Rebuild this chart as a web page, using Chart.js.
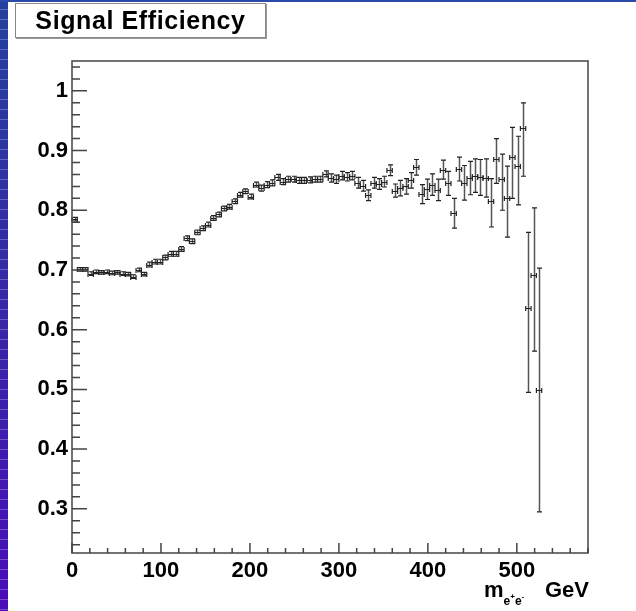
<!DOCTYPE html>
<html>
<head>
<meta charset="utf-8">
<title>Signal Efficiency</title>
<script src="https://cdn.jsdelivr.net/npm/chart.js@4.4.1/dist/chart.umd.min.js"></script>
<style>
  html, body { margin: 0; padding: 0; background: #fff; }
  #wrap { position: relative; width: 636px; height: 611px; overflow: hidden; }
  #chart { position: absolute; left: 0; top: 0; }
  #leftbar {
    position: absolute; left: 0; top: 0; width: 8px; height: 611px;
    background:
      repeating-linear-gradient(to bottom, rgba(255,255,255,0) 0px, rgba(255,255,255,0) 9px, rgba(200,200,255,0.35) 9px, rgba(200,200,255,0.35) 10px),
      linear-gradient(to bottom, #24409c, #3a22a8 60%, #4a0cb8);
  }
  #topbar { position: absolute; left: 0; top: 0; width: 636px; height: 2px; background: #2a49a8; }
  #title {
    position: absolute; left: 15px; top: 3px; width: 249px; height: 33px;
    border: 1px solid #888; box-shadow: 1px 1px 0 #999; background: #fff;
    font: bold 25px "Liberation Sans", Arial, sans-serif; color: #000;
    letter-spacing: 0.6px; text-align: center; line-height: 33px;
  }
</style>
</head>
<body>
<div id="wrap">
  <canvas id="chart" width="636" height="611"></canvas>
  <div id="leftbar"></div>
  <div id="topbar"></div>
  <div id="title">Signal Efficiency</div>
</div>
<script>
// bin centres (GeV), bin half width 3 GeV
const binCenters = [3, 9, 15, 21, 27, 33, 39, 45, 51, 57, 63, 69, 75, 81, 87, 93, 99, 105, 111, 117,
  123, 129, 135, 141, 147, 153, 159, 165, 171, 177, 183, 189, 195, 201, 207, 213, 219, 225, 231, 237,
  243, 249, 255, 261, 267, 273, 279, 285, 291, 297, 303, 309, 315, 321, 327, 333, 339, 345, 351, 357,
  363, 369, 375, 381, 387, 393, 399, 405, 411, 417, 423, 429, 435, 441, 447, 453, 459, 465, 471, 477,
  483, 489, 495, 501, 507, 513, 519, 525];
const binHalfWidth = 3;

const efficiency = [0.785, 0.701, 0.701, 0.694, 0.697, 0.696, 0.697, 0.695, 0.696, 0.694,
  0.693, 0.689, 0.700, 0.693, 0.709, 0.714, 0.714, 0.721, 0.727, 0.727,
  0.735, 0.753, 0.748, 0.763, 0.770, 0.776, 0.787, 0.793, 0.803, 0.806,
  0.815, 0.826, 0.832, 0.823, 0.843, 0.837, 0.843, 0.846, 0.855, 0.848,
  0.852, 0.852, 0.850, 0.850, 0.851, 0.852, 0.852, 0.861, 0.854, 0.852,
  0.858, 0.856, 0.858, 0.846, 0.841, 0.825, 0.846, 0.844, 0.848, 0.867,
  0.833, 0.837, 0.840, 0.850, 0.872, 0.827, 0.835, 0.843, 0.834, 0.868,
  0.845, 0.795, 0.869, 0.846, 0.854, 0.858, 0.855, 0.854, 0.816, 0.886,
  0.852, 0.820, 0.889, 0.874, 0.937, 0.636, 0.692, 0.499];

const errUp = [0.003, 0.003, 0.003, 0.003, 0.003, 0.003, 0.003, 0.003, 0.003, 0.003,
  0.003, 0.003, 0.003, 0.003, 0.004, 0.004, 0.004, 0.004, 0.004, 0.004,
  0.004, 0.004, 0.004, 0.004, 0.004, 0.004, 0.004, 0.004, 0.004, 0.004,
  0.004, 0.004, 0.004, 0.004, 0.004, 0.005, 0.005, 0.005, 0.005, 0.005,
  0.005, 0.005, 0.005, 0.005, 0.005, 0.005, 0.005, 0.005, 0.007, 0.007,
  0.007, 0.007, 0.007, 0.009, 0.009, 0.009, 0.009, 0.009, 0.009, 0.009,
  0.011, 0.013, 0.013, 0.013, 0.013, 0.016, 0.017, 0.018, 0.018, 0.016,
  0.020, 0.025, 0.020, 0.029, 0.028, 0.028, 0.030, 0.032, 0.037, 0.034,
  0.042, 0.054, 0.050, 0.050, 0.043, 0.127, 0.112, 0.204];

const errDown = [0.003, 0.003, 0.003, 0.003, 0.003, 0.003, 0.003, 0.003, 0.003, 0.003,
  0.003, 0.003, 0.003, 0.003, 0.004, 0.004, 0.004, 0.004, 0.004, 0.004,
  0.004, 0.004, 0.004, 0.004, 0.004, 0.004, 0.004, 0.004, 0.004, 0.004,
  0.004, 0.004, 0.004, 0.004, 0.004, 0.005, 0.005, 0.005, 0.005, 0.005,
  0.005, 0.005, 0.005, 0.005, 0.005, 0.005, 0.005, 0.005, 0.007, 0.007,
  0.007, 0.007, 0.007, 0.009, 0.009, 0.009, 0.009, 0.009, 0.009, 0.009,
  0.011, 0.013, 0.013, 0.013, 0.013, 0.016, 0.017, 0.018, 0.018, 0.016,
  0.020, 0.025, 0.020, 0.029, 0.028, 0.028, 0.030, 0.032, 0.044, 0.041,
  0.052, 0.065, 0.069, 0.065, 0.080, 0.141, 0.128, 0.204];

const xMajorTicks = [0, 100, 200, 300, 400, 500];
const yMajorTicks = [0.3, 0.4, 0.5, 0.6, 0.7, 0.8, 0.9, 1];

const FONT = '"Liberation Sans", Arial, sans-serif';

// error bars with end caps, ROOT "E1" style
const errorBars = {
  id: 'errorBars',
  afterDatasetsDraw(chart) {
    const { ctx, scales: { x, y } } = chart;
    ctx.save();
    const cap = 2.5;
    binCenters.forEach((c, i) => {
      const px = Math.round(x.getPixelForValue(c)) + 0.5;
      const py = Math.round(y.getPixelForValue(efficiency[i])) + 0.5;
      const xl = x.getPixelForValue(c - binHalfWidth);
      const xr = x.getPixelForValue(c + binHalfWidth);
      const yt = y.getPixelForValue(efficiency[i] + errUp[i]);
      const yb = y.getPixelForValue(efficiency[i] - errDown[i]);
      // vertical bar, a bit softer like the original
      ctx.strokeStyle = '#555';
      ctx.lineWidth = 1.5;
      ctx.beginPath();
      ctx.moveTo(px, yt); ctx.lineTo(px, yb);
      ctx.stroke();
      ctx.strokeStyle = '#222';
      ctx.lineWidth = 1.2;
      ctx.beginPath();
      ctx.moveTo(xl, py); ctx.lineTo(xr, py);
      ctx.moveTo(xl, py - cap); ctx.lineTo(xl, py + cap);
      ctx.moveTo(xr, py - cap); ctx.lineTo(xr, py + cap);
      ctx.moveTo(px - cap, yt); ctx.lineTo(px + cap, yt);
      ctx.moveTo(px - cap, yb); ctx.lineTo(px + cap, yb);
      ctx.stroke();
    });
    ctx.restore();
  }
};

// frame, inner ticks and the axis title
const frame = {
  id: 'frame',
  afterDraw(chart) {
    const { ctx, chartArea: a, scales: { x, y } } = chart;
    ctx.save();
    ctx.strokeStyle = '#444';
    ctx.lineWidth = 1.5;
    ctx.strokeRect(a.left, a.top, a.right - a.left, a.bottom - a.top);

    ctx.beginPath();
    for (let v = 0; v <= 580; v += 20) {
      const px = x.getPixelForValue(v);
      const len = v % 100 === 0 ? 10 : 5;
      ctx.moveTo(px, a.bottom); ctx.lineTo(px, a.bottom - len);
    }
    for (let k = 12; k <= 52; k++) {
      const v = k * 0.02;
      const py = y.getPixelForValue(v);
      if (py < a.top || py > a.bottom) continue;
      const len = k % 5 === 0 ? 15 : 8;
      ctx.moveTo(a.left, py); ctx.lineTo(a.left + len, py);
    }
    ctx.stroke();

    // x axis title: m_{e+e-} GeV
    ctx.fillStyle = '#000';
    ctx.textBaseline = 'alphabetic';
    ctx.font = 'bold 22px ' + FONT;
    const base = 597;
    let cx = 484;
    ctx.fillText('m', cx, base);
    cx += ctx.measureText('m').width;
    ctx.font = 'bold 12px ' + FONT;
    ctx.fillText('e', cx, base + 8);
    cx += ctx.measureText('e').width;
    ctx.font = 'bold 8px ' + FONT;
    ctx.fillText('+', cx, base + 2);
    cx += ctx.measureText('+').width;
    ctx.font = 'bold 12px ' + FONT;
    ctx.fillText('e', cx, base + 8);
    cx += ctx.measureText('e').width;
    ctx.font = 'bold 8px ' + FONT;
    ctx.fillText('-', cx, base + 2);
    ctx.font = 'bold 22px ' + FONT;
    ctx.textAlign = 'right';
    ctx.fillText('GeV', 589, base);
    ctx.restore();
  }
};

new Chart(document.getElementById('chart'), {
  type: 'scatter',
  data: {
    datasets: [{
      data: binCenters.map((c, i) => ({ x: c, y: efficiency[i] })),
      pointRadius: 0,
      showLine: false
    }]
  },
  options: {
    responsive: false,
    animation: false,
    layout: { padding: { left: 8, top: 61, right: 48, bottom: 0 } },
    plugins: { legend: { display: false }, tooltip: { enabled: false } },
    scales: {
      x: {
        type: 'linear',
        min: 0,
        max: 580,
        grid: { display: false, drawTicks: false },
        border: { display: false },
        afterFit: (s) => { s.height = 58; },
        afterBuildTicks: (s) => { s.ticks = xMajorTicks.map(v => ({ value: v })); },
        ticks: {
          autoSkip: false,
          maxRotation: 0,
          padding: 5,
          color: '#000',
          font: { family: FONT, size: 22, weight: 'bold' },
          callback: (v) => String(v)
        }
      },
      y: {
        min: 0.226,
        max: 1.05,
        grid: { display: false, drawTicks: false },
        border: { display: false },
        afterFit: (s) => { s.width = 64; },
        afterBuildTicks: (s) => { s.ticks = yMajorTicks.map(v => ({ value: v })); },
        ticks: {
          autoSkip: false,
          padding: 4,
          color: '#000',
          font: { family: FONT, size: 22, weight: 'bold' },
          callback: (v) => String(+v.toFixed(2))
        }
      }
    }
  },
  plugins: [errorBars, frame]
});
</script>
</body>
</html>
